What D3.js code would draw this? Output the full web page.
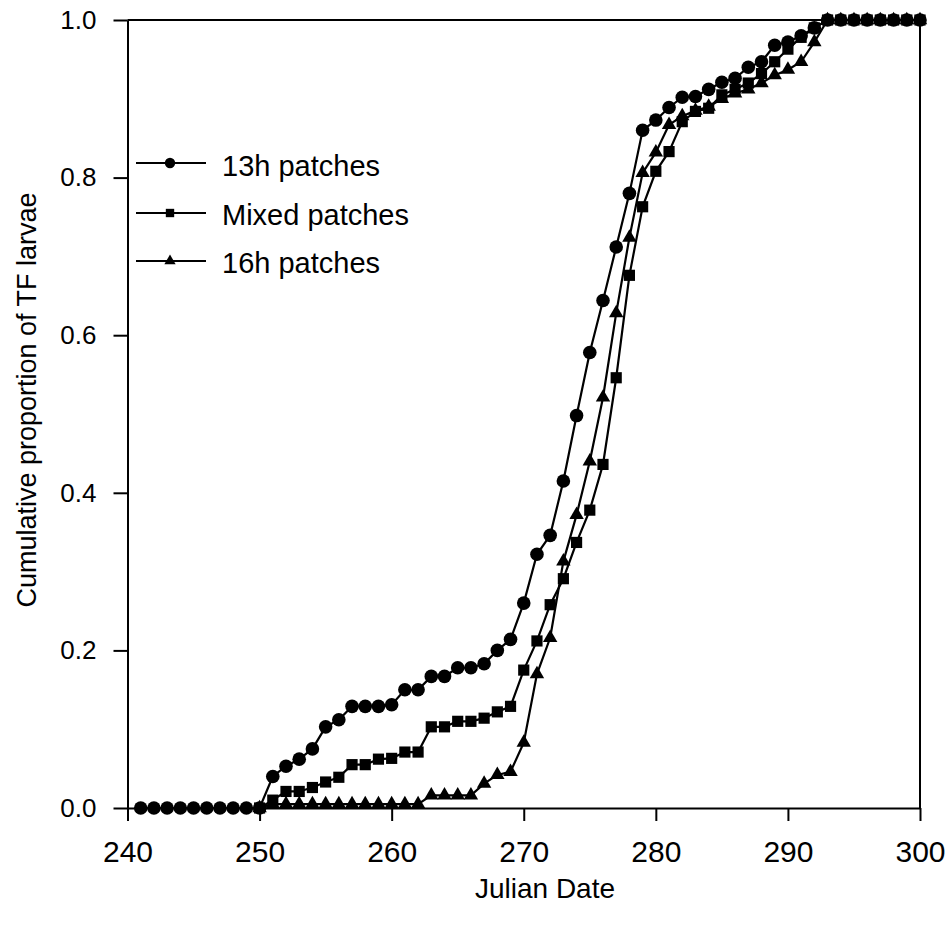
<!DOCTYPE html>
<html>
<head>
<meta charset="utf-8">
<script src="https://cdn.jsdelivr.net/npm/d3@7"></script>
<style>
  html, body { margin: 0; padding: 0; background: #fff; }
  svg { display: block; }
  text { font-family: "Liberation Sans", Arial, Helvetica, sans-serif; fill: #000; }
</style>
</head>
<body>
<svg id="chart" width="947" height="925"></svg>
<script>
// ---- data ----
const xTicks = [240, 250, 260, 270, 280, 290, 300];
const yTicks = [0, 0.2, 0.4, 0.6, 0.8, 1.0];

const days13h = d3.range(241, 301);
const values13h = [
  0, 0, 0, 0, 0, 0, 0, 0, 0, 0,                       // 241-250
  0.040, 0.053, 0.062, 0.075, 0.103, 0.112, 0.129, 0.129, 0.129, 0.131, // 251-260
  0.150, 0.150, 0.167, 0.167, 0.178, 0.178, 0.183, 0.200, 0.214, 0.260, // 261-270
  0.322, 0.346, 0.415, 0.498, 0.578, 0.644, 0.712, 0.780, 0.860, 0.873, // 271-280
  0.889, 0.902, 0.903, 0.912, 0.921, 0.926, 0.940, 0.947, 0.968, 0.972, // 281-290
  0.980, 0.990, 1.0, 1.0, 1.0, 1.0, 1.0, 1.0, 1.0, 1.0                  // 291-300
];

const daysMixed = d3.range(250, 301);
const valuesMixed = [
  0,                                                                   // 250
  0.010, 0.021, 0.021, 0.026, 0.033, 0.039, 0.055, 0.055, 0.062, 0.063, // 251-260
  0.071, 0.071, 0.103, 0.103, 0.110, 0.110, 0.114, 0.122, 0.129, 0.175, // 261-270
  0.212, 0.258, 0.291, 0.337, 0.378, 0.436, 0.546, 0.676, 0.763, 0.808, // 271-280
  0.833, 0.871, 0.884, 0.888, 0.905, 0.912, 0.920, 0.932, 0.947, 0.963, // 281-290
  0.978, 0.990, 1.0, 1.0, 1.0, 1.0, 1.0, 1.0, 1.0, 1.0                  // 291-300
];

const days16h = d3.range(250, 301);
const values16h = [
  0,                                                                   // 250
  0.005, 0.005, 0.005, 0.005, 0.005, 0.005, 0.005, 0.005, 0.005, 0.005, // 251-260
  0.005, 0.005, 0.016, 0.016, 0.016, 0.016, 0.031, 0.042, 0.046, 0.083, // 261-270
  0.170, 0.216, 0.313, 0.372, 0.440, 0.521, 0.628, 0.724, 0.806, 0.832, // 271-280
  0.867, 0.878, 0.885, 0.890, 0.900, 0.907, 0.912, 0.920, 0.930, 0.937, // 281-290
  0.947, 0.972, 1.0, 1.0, 1.0, 1.0, 1.0, 1.0, 1.0, 1.0                  // 291-300
];

const seriesNames = ["13h patches", "Mixed patches", "16h patches"];

// ---- layout ----
const svg = d3.select("#chart");
const x = d3.scaleLinear().domain([240, 300]).range([127.5, 920]);
const y = d3.scaleLinear().domain([0, 1]).range([808, 20]);

const series = [
  { name: seriesNames[0], days: days13h, values: values13h, symbol: d3.symbolCircle, size: 145 },
  { name: seriesNames[2], days: days16h, values: values16h, symbol: d3.symbolTriangle, size: 90 },
  { name: seriesNames[1], days: daysMixed, values: valuesMixed, symbol: d3.symbolSquare, size: 125 }
];

// frame (top and right)
svg.append("line").attr("x1", x(240)).attr("x2", x(300)).attr("y1", y(1)).attr("y2", y(1))
  .attr("stroke", "#000").attr("stroke-width", 2);
svg.append("line").attr("x1", x(300)).attr("x2", x(300)).attr("y1", y(1)).attr("y2", y(0))
  .attr("stroke", "#000").attr("stroke-width", 2);

// axes
const xAxis = svg.append("g").attr("transform", `translate(0,${y(0)})`)
  .call(d3.axisBottom(x).tickValues(xTicks).tickSize(13).tickSizeOuter(0).tickPadding(20).tickFormat(d3.format("d")));
xAxis.selectAll("text").style("font-size", "30px");

const yAxis = svg.append("g").attr("transform", `translate(${x(240)},0)`)
  .call(d3.axisLeft(y).tickValues(yTicks).tickSize(14).tickSizeOuter(0).tickPadding(17).tickFormat(d3.format(".1f")));
yAxis.selectAll("text").style("font-size", "26px");

[xAxis, yAxis].forEach(g => {
  g.select(".domain").attr("stroke", "#000").attr("stroke-width", 2);
  g.selectAll(".tick line").attr("stroke", "#000").attr("stroke-width", 2);
  g.selectAll("text").attr("fill", "#000").style("font-family", "'Liberation Sans', Arial, sans-serif");
});

// axis titles
svg.append("text")
  .attr("x", 545).attr("y", 898)
  .attr("text-anchor", "middle").style("font-size", "28px")
  .text("Julian Date");

svg.append("text")
  .attr("transform", `translate(36,400) rotate(-90)`)
  .attr("text-anchor", "middle").style("font-size", "27px")
  .text("Cumulative proportion of TF larvae");

// series
const line = d3.line().x(d => x(d[0])).y(d => y(d[1]));
series.forEach(s => {
  const pts = s.days.map((d, i) => [d, s.values[i]]);
  const g = svg.append("g");
  g.append("path").datum(pts).attr("d", line)
    .attr("fill", "none").attr("stroke", "#000").attr("stroke-width", 2.2);
  g.selectAll("path.m").data(pts).enter().append("path")
    .attr("class", "m")
    .attr("transform", d => `translate(${x(d[0])},${y(d[1])})`)
    .attr("d", d3.symbol().type(s.symbol).size(s.size))
    .attr("fill", "#000");
});

// legend
const legendItems = [
  { name: seriesNames[0], symbol: d3.symbolCircle, size: 85, ly: 163, ty: 176 },
  { name: seriesNames[1], symbol: d3.symbolSquare, size: 70, ly: 213, ty: 225 },
  { name: seriesNames[2], symbol: d3.symbolTriangle, size: 55, ly: 261, ty: 273 }
];
const lg = svg.append("g");
legendItems.forEach(it => {
  lg.append("line").attr("x1", 136).attr("x2", 206).attr("y1", it.ly).attr("y2", it.ly)
    .attr("stroke", "#000").attr("stroke-width", 2);
  lg.append("path").attr("transform", `translate(170,${it.ly})`)
    .attr("d", d3.symbol().type(it.symbol).size(it.size)).attr("fill", "#000");
  lg.append("text").attr("x", 222).attr("y", it.ty).style("font-size", "29px").text(it.name);
});
</script>
</body>
</html>
